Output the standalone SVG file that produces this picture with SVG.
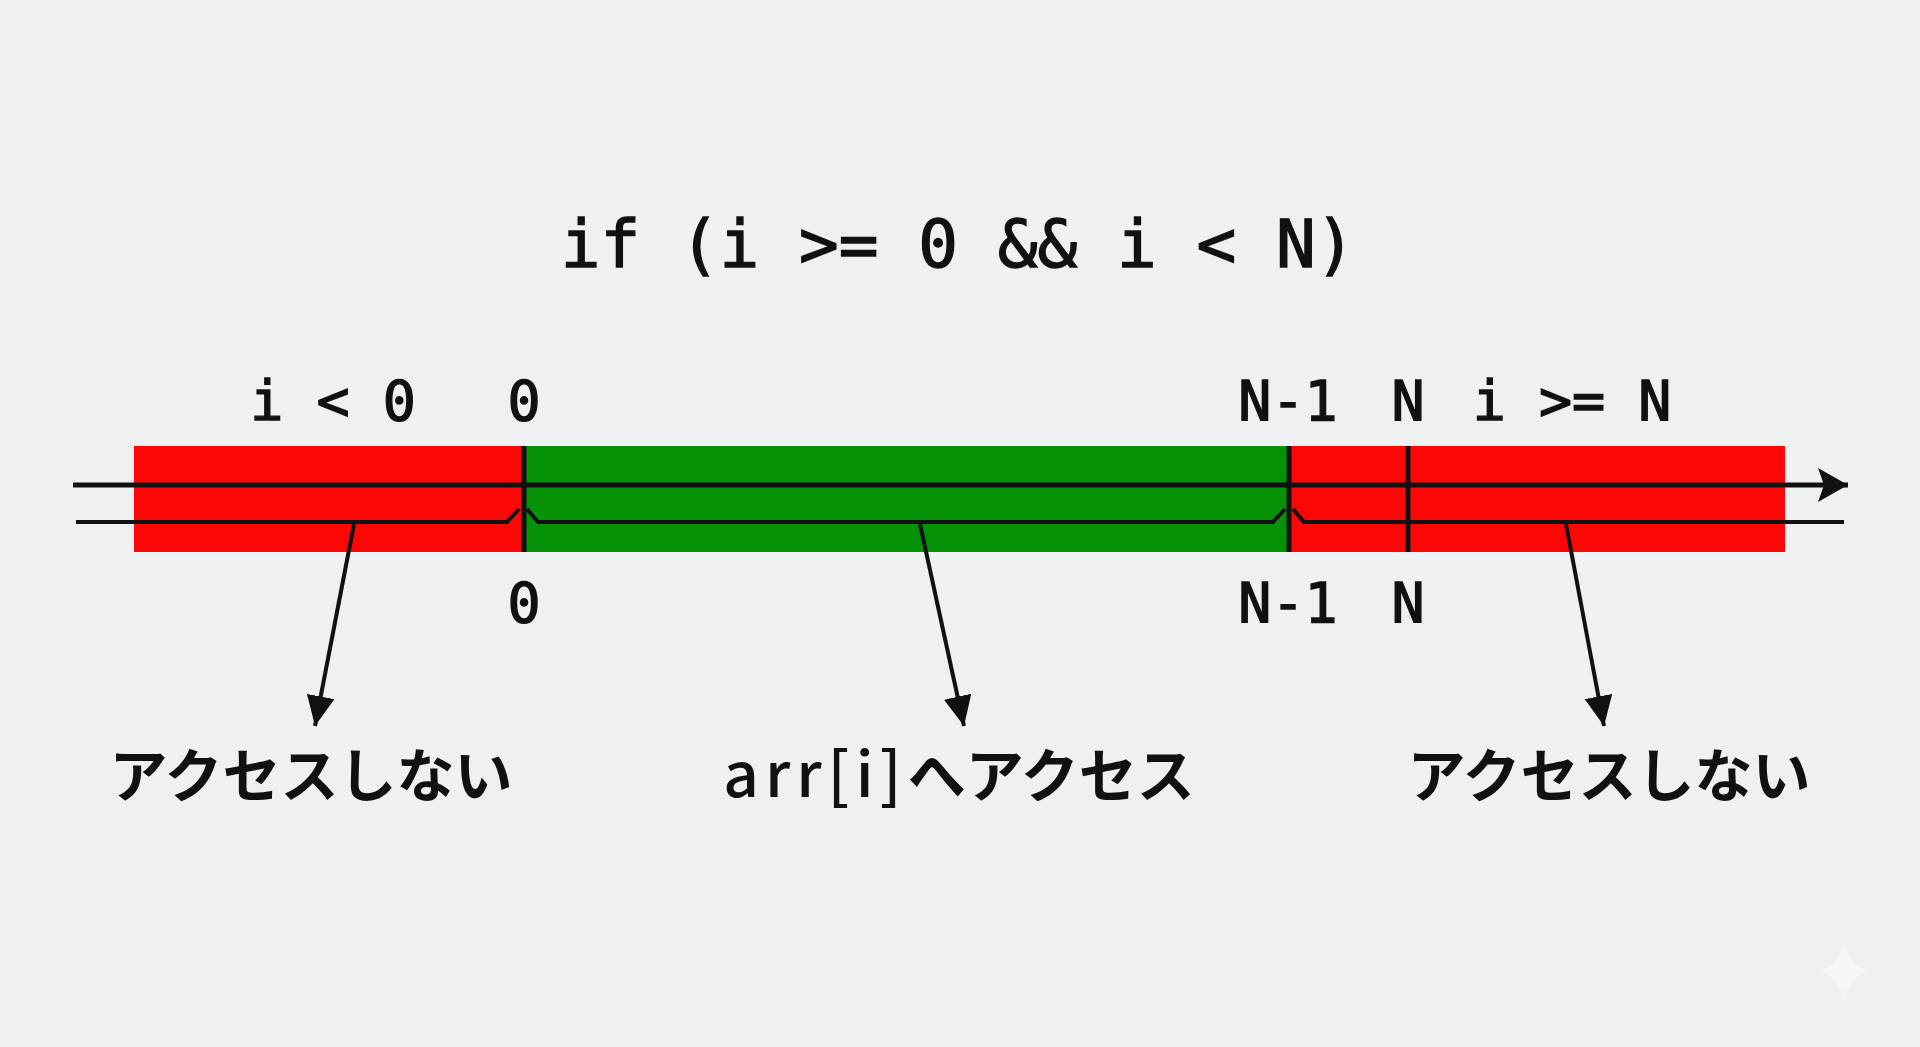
<svg xmlns="http://www.w3.org/2000/svg" width="1920" height="1047" viewBox="0 0 1920 1047">
<style>
.mono{font-family:"DejaVu Sans Mono","Liberation Mono",monospace;fill:#111;stroke:#111;stroke-width:1.4px;text-anchor:middle}
.title{font-size:66px}
.lbl{font-size:55px}
.jp{font-family:"Noto Sans CJK JP","Noto Sans",sans-serif;font-size:58px;font-weight:700;fill:#111;text-anchor:middle}
.lat{font-weight:500;font-size:62px;letter-spacing:6px}
.red{fill:#fe0606}
.green{fill:#069206}
.ln{stroke:#111;fill:none;stroke-linecap:butt;stroke-linejoin:miter}
</style>
<defs>
<marker id="ahBig" viewBox="0 0 30 34" markerWidth="30" markerHeight="34" refX="30" refY="17" orient="auto" markerUnits="userSpaceOnUse">
<path d="M0,0 L30,17 L0,34 L6,17 z" fill="#111"/>
</marker>
<marker id="ahDown" viewBox="0 0 30 28" markerWidth="30" markerHeight="28" refX="30" refY="14" orient="auto" markerUnits="userSpaceOnUse">
<path d="M0,0 L30,14 L0,28 z" fill="#111"/>
</marker>
</defs>
<rect width="1920" height="1047" fill="#eef0f1"/>

<g id="title"><text class="mono title" x="958" y="267">if (i &gt;= 0 &amp;&amp; i &lt; N)</text></g>

<g id="bar-left"><rect class="red" x="134" y="446" width="390" height="106"/></g>
<g id="bar-mid"><rect class="green" x="524" y="446" width="765" height="106"/></g>
<g id="bar-right"><rect class="red" x="1289" y="446" width="496" height="106"/></g>

<g id="dividers">
<line class="ln" x1="524" y1="446" x2="524" y2="552" stroke-width="5"/>
<line class="ln" x1="1289" y1="446" x2="1289" y2="552" stroke-width="5"/>
<line class="ln" x1="1408" y1="446" x2="1408" y2="552" stroke-width="5"/>
</g>

<g id="top-labels">
<text class="mono lbl" x="333" y="420">i &lt; 0</text>
<text class="mono lbl" x="524" y="420">0</text>
<text class="mono lbl" x="1288" y="420">N-1</text>
<text class="mono lbl" x="1408" y="420">N</text>
<text class="mono lbl" x="1572" y="420">i &gt;= N</text>
</g>

<g id="bottom-labels">
<text class="mono lbl" x="524" y="622">0</text>
<text class="mono lbl" x="1288" y="622">N-1</text>
<text class="mono lbl" x="1408" y="622">N</text>
</g>

<g id="connectors">
<line class="ln" x1="73" y1="485" x2="1848" y2="485" stroke-width="5" marker-end="url(#ahBig)"/>
<path class="ln" stroke-width="4" d="M76,522 H507 L519,509 M527,509 L538,522 H1273 L1285,509 M1293,509 L1304,522 H1844"/>
<line class="ln" x1="354" y1="524" x2="315" y2="726" stroke-width="4" marker-end="url(#ahDown)"/>
<line class="ln" x1="920" y1="524" x2="964" y2="726" stroke-width="4" marker-end="url(#ahDown)"/>
<line class="ln" x1="1566" y1="524" x2="1604" y2="726" stroke-width="4" marker-end="url(#ahDown)"/>
</g>

<g id="label-left"><text class="jp" x="311" y="797">アクセスしない</text></g>
<g id="label-mid"><text class="jp" x="959" y="797"><tspan class="lat">arr[i]</tspan>へアクセス</text></g>
<g id="label-right"><text class="jp" x="1609" y="797">アクセスしない</text></g>

<g id="sparkle"><path d="M1844,940 Q1848,967 1870,971 Q1848,975 1844,1002 Q1840,975 1818,971 Q1840,967 1844,940 z" fill="#f8fafb" opacity="0.6"/></g>
</svg>
